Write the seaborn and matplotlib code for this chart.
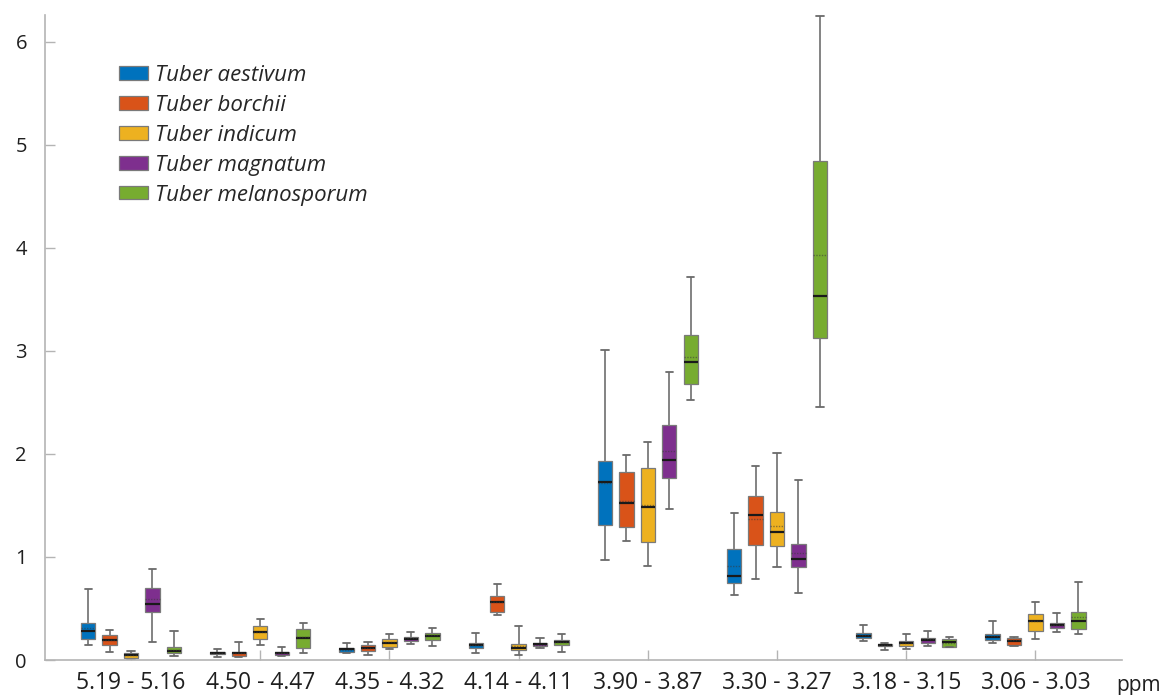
import numpy as np
import pandas as pd
import matplotlib
matplotlib.use("Agg")
import matplotlib.pyplot as plt
from matplotlib.patches import PathPatch
import seaborn as sns

# ---------------- data ----------------
ppm_labels = ["5.19 - 5.16", "4.50 - 4.47", "4.35 - 4.32", "4.14 - 4.11",
              "3.90 - 3.87", "3.30 - 3.27", "3.18 - 3.15", "3.06 - 3.03"]
species = ["Tuber aestivum", "Tuber borchii", "Tuber indicum",
           "Tuber magnatum", "Tuber melanosporum"]
colors = ["#0072BD", "#D95319", "#EDB120", "#7E2F8E", "#77AC30"]

# per species, per ppm group
whisker_low = [
    [0.142, 0.032, 0.065, 0.071, 0.968, 0.628, 0.181, 0.162],
    [0.081, 0.029, 0.052, 0.434, 1.155, 0.789, 0.100, 0.140],
    [0.000, 0.146, 0.107, 0.052, 0.910, 0.900, 0.110, 0.207],
    [0.178, 0.039, 0.152, 0.117, 1.466, 0.647, 0.133, 0.275],
    [0.036, 0.071, 0.133, 0.081, 2.524, 2.460, 0.123, 0.249],
]
quartile_1 = [
    [0.207, 0.055, 0.081, 0.120, 1.311, 0.744, 0.210, 0.191],
    [0.149, 0.042, 0.087, 0.463, 1.294, 1.117, 0.133, 0.146],
    [0.019, 0.207, 0.129, 0.094, 1.146, 1.107, 0.139, 0.282],
    [0.466, 0.049, 0.184, 0.133, 1.767, 0.906, 0.165, 0.314],
    [0.071, 0.117, 0.191, 0.149, 2.683, 3.130, 0.126, 0.301],
]
median = [
    [0.282, 0.065, 0.104, 0.142, 1.731, 0.816, 0.236, 0.226],
    [0.191, 0.065, 0.117, 0.563, 1.527, 1.405, 0.146, 0.188],
    [0.045, 0.272, 0.162, 0.120, 1.482, 1.246, 0.162, 0.375],
    [0.547, 0.065, 0.207, 0.152, 1.942, 0.981, 0.191, 0.337],
    [0.090, 0.217, 0.233, 0.172, 2.890, 3.530, 0.170, 0.375],
]
mean = [
    [0.314, 0.068, 0.100, 0.145, 1.720, 0.913, 0.240, 0.230],
    [0.190, 0.065, 0.120, 0.560, 1.540, 1.366, 0.146, 0.190],
    [0.050, 0.270, 0.170, 0.140, 1.505, 1.304, 0.165, 0.380],
    [0.589, 0.065, 0.210, 0.150, 2.029, 1.042, 0.200, 0.340],
    [0.100, 0.220, 0.240, 0.170, 2.945, 3.930, 0.168, 0.420],
]
quartile_3 = [
    [0.362, 0.078, 0.120, 0.162, 1.932, 1.075, 0.259, 0.252],
    [0.240, 0.081, 0.146, 0.618, 1.822, 1.592, 0.155, 0.217],
    [0.068, 0.333, 0.200, 0.155, 1.864, 1.440, 0.184, 0.447],
    [0.699, 0.081, 0.226, 0.168, 2.282, 1.129, 0.214, 0.359],
    [0.126, 0.301, 0.262, 0.191, 3.158, 4.840, 0.200, 0.466],
]
whisker_high = [
    [0.692, 0.104, 0.162, 0.265, 3.010, 1.430, 0.340, 0.379],
    [0.294, 0.178, 0.178, 0.738, 1.987, 1.886, 0.165, 0.226],
    [0.084, 0.401, 0.249, 0.333, 2.120, 2.013, 0.249, 0.563],
    [0.883, 0.126, 0.272, 0.214, 2.793, 1.748, 0.285, 0.453],
    [0.285, 0.356, 0.314, 0.252, 3.720, 6.250, 0.223, 0.757],
]
y_ticks = [0, 1, 2, 3, 4, 5, 6]

# five-number summaries -> long table (quartiles reproduce exactly)
rows = []
for s_i, sp in enumerate(species):
    for g_i, lab in enumerate(ppm_labels):
        for v in (whisker_low[s_i][g_i], quartile_1[s_i][g_i], median[s_i][g_i],
                  quartile_3[s_i][g_i], whisker_high[s_i][g_i]):
            rows.append({"ppm": lab, "species": sp, "value": v})
df = pd.DataFrame(rows)

# ---------------- style ----------------
sns.set_theme(style="white")
plt.rcParams["font.family"] = ["Open Sans", "DejaVu Sans"]

W, H = 1164, 695
fig = plt.figure(figsize=(W / 100, H / 100), dpi=100)
ax = fig.add_axes([45 / W, 1 - 660 / H, (1122 - 45) / W, (660 - 15) / H])

BOX_WIDTH = 0.83
GAP = 0.33
sns.boxplot(
    data=df, x="ppm", y="value", hue="species",
    order=ppm_labels, hue_order=species, palette=colors,
    width=BOX_WIDTH, gap=GAP, whis=(0, 100), showfliers=False,
    saturation=1, linecolor="#707070", linewidth=1.1, ax=ax,
    medianprops={"color": "#1a1a1a", "linewidth": 1.6},
    whiskerprops={"color": "#7a7a7a", "linewidth": 1.3},
    capprops={"color": "#6a6a6a", "linewidth": 1.3},
    boxprops={"edgecolor": "#7a7a7a", "linewidth": 0.9},
)

# dotted mean lines over each box (positions taken from the drawn boxes)
n = len(species)
step = BOX_WIDTH / n
for p in ax.patches:
    if not isinstance(p, PathPatch):
        continue
    verts = p.get_path().vertices
    x0, x1 = verts[:, 0].min(), verts[:, 0].max()
    cx = 0.5 * (x0 + x1)
    g = int(round(cx))
    h = int(round((cx - g) / step + (n - 1) / 2))
    if not (0 <= g < len(ppm_labels) and 0 <= h < n):
        continue
    ax.hlines(mean[h][g], x0, x1, colors="#3a3a3a", linestyles=(0, (1, 1)),
              linewidth=1.0, alpha=0.55, zorder=5)

ax.set_xlim(-0.666, 7.67)
ax.set_ylim(0, 6.26)
ax.set_yticks(y_ticks)
ax.set_xlabel("")
ax.set_ylabel("")

for side in ("top", "right"):
    ax.spines[side].set_visible(False)
for side in ("left", "bottom"):
    ax.spines[side].set_color("#b4b4b4")
    ax.spines[side].set_linewidth(1.2)

ax.tick_params(axis="y", direction="in", length=7, width=1.0, color="#b4b4b4",
               labelsize=14.5, pad=13, labelcolor="#1f1f1f", left=True)
ax.tick_params(axis="x", direction="in", length=7, width=1.0, color="#b4b4b4",
               labelsize=16.5, pad=8, labelcolor="#1f1f1f", bottom=True)

fig.text(1116 / W, 1 - 691 / H, "ppm", fontsize=15, color="#1f1f1f",
         ha="left", va="baseline")

sns.move_legend(
    ax, "upper left", bbox_to_anchor=(119 / W, 1 - 65 / H),
    bbox_transform=fig.transFigure, frameon=False, title=None,
    prop={"style": "italic", "size": 16, "family": "Open Sans"},
    handlelength=1.3, handleheight=0.55, handletextpad=0.3,
    labelspacing=0.4, borderpad=0, borderaxespad=0,
)

fig.savefig("out.png", dpi=100)
